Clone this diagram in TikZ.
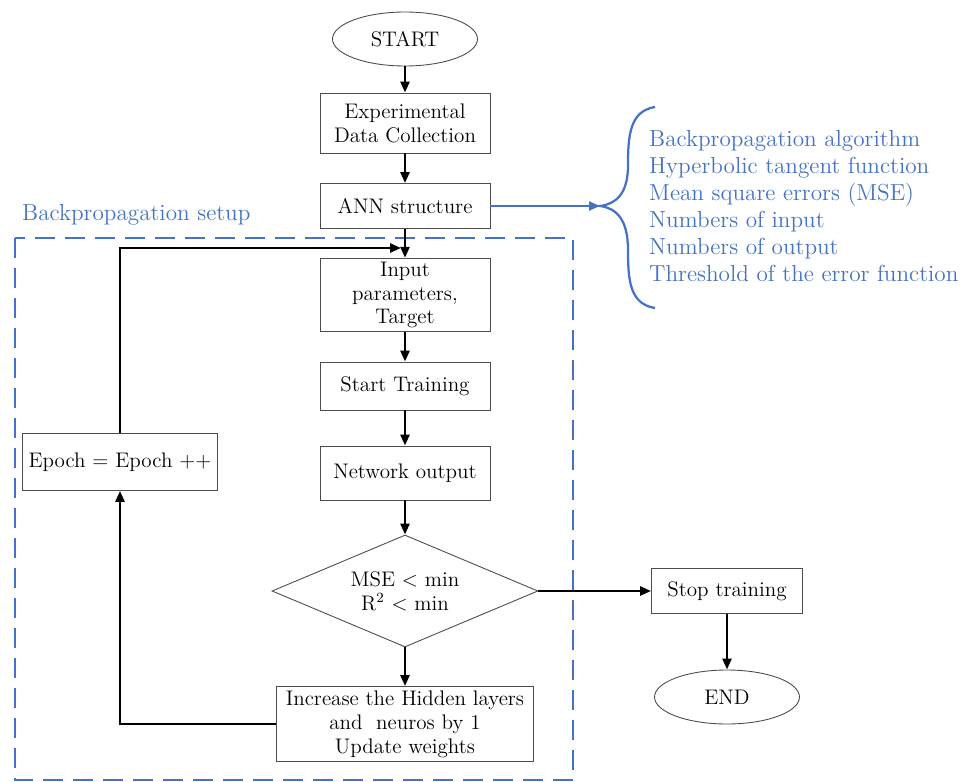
\documentclass[tikz,border=0pt]{standalone}
\usetikzlibrary{shapes.geometric,arrows.meta}
\definecolor{setupblue}{RGB}{68,114,196}
\tikzset{
  flowbox/.style={draw=black!70, fill=white, align=center, inner sep=2pt, line width=0.5pt,
    minimum width=3.4cm, font=\fontsize{12}{13.6}\selectfont},
  termnode/.style={ellipse, draw=black!70, fill=white, inner sep=0pt, line width=0.5pt,
    minimum width=2.9cm, minimum height=1.08cm, font=\fontsize{12}{13.6}\selectfont},
  decision/.style={diamond, draw=black!70, fill=white, align=center, inner sep=0pt, line width=0.5pt,
    aspect=2.4, minimum width=5.32cm, minimum height=2.24cm, font=\fontsize{12}{13.6}\selectfont},
  flowarrow/.style={line width=0.5mm, -{Triangle[length=2.2mm,width=1.8mm]}},
  setupframe/.style={draw=setupblue, line width=0.4mm, dash pattern=on 4mm off 2mm},
  bluetext/.style={text=setupblue, font=\fontsize{13.2}{15.4}\selectfont}
}

\begin{document}
\begin{tikzpicture}[x=0.02cm, y=-0.02cm]
			%%%%% START %%%%%
			\useasboundingbox (0,0) rectangle (970,781);
			
			% setup frame and label
			\draw[setupframe] (15,238) rectangle (573,780);
			\node[bluetext, anchor=west] (setuplabel) at (16,215) {Backpropagation setup};
			
			% main column
			\node[termnode] (start) at (405,39) {START};
			\node[flowbox, minimum height=1.2cm] (collect) at (405,123) {Experimental\\Data Collection};
			\node[flowbox, minimum height=0.9cm] (ann) at (405,206) {ANN structure};
			\node[flowbox, minimum height=1.42cm] (input) at (405,295) {Input\\parameters,\\Target};
			\node[flowbox, minimum height=0.96cm] (train) at (405,386) {Start Training};
			\node[flowbox, minimum height=1.08cm] (netout) at (405,473) {Network output};
			\node[decision] (check) at (405,591) {MSE $<$ min\\R\textsuperscript{2} $<$ min};
			\node[flowbox, minimum width=5.14cm, minimum height=1.5cm] (update) at (405,724)
			  {Increase the Hidden layers\\and\ \ neuros by 1\\Update weights};
			
			% side nodes
			\node[flowbox, minimum width=3.9cm, minimum height=1.14cm] (epoch) at (120,462) {Epoch = Epoch ++};
			\node[flowbox, minimum width=3.02cm, minimum height=0.9cm] (stop) at (727,591) {Stop training};
			\node[termnode] (end) at (727,697) {END};
			
			% parameter list with brace
			\node[bluetext, anchor=west, align=left] (params) at (643,206)
			  {Backpropagation algorithm\\Hyperbolic tangent function\\Mean square errors (MSE)\\
			   Numbers of input\\Numbers of output\\Threshold of the error function};
			\coordinate (bracetip) at (600,206);
			\draw[setupblue, line width=0.45mm] (655,107) .. controls (630,111) and (628,135) .. (628,165)
			  .. controls (628,194) and (616,204) .. (bracetip)
			  .. controls (616,208) and (628,219) .. (628,250)
			  .. controls (628,281) and (630,304) .. (655,308);
			\draw[setupblue, line width=0.45mm, -{Triangle[length=2.2mm,width=1.8mm]}] (ann.east) -- (bracetip);
			
			% connectors
			\draw[flowarrow] (start) -- (collect);
			\draw[flowarrow] (collect) -- (ann);
			\draw[flowarrow] (ann) -- (input);
			\draw[flowarrow] (input) -- (train);
			\draw[flowarrow] (train) -- (netout);
			\draw[flowarrow] (netout) -- (check);
			\draw[flowarrow] (check) -- (update);
			\draw[flowarrow] (check.east) -- (stop.west);
			\draw[flowarrow] (stop) -- (end);
			
			% feedback loop
			\coordinate (loopin) at (401,248);
			\draw[flowarrow] (update.west) -| (epoch.south);
			\draw[flowarrow] (epoch.north) |- (loopin);
			
			%%%%% END %%%%%
\end{tikzpicture}
\end{document}
